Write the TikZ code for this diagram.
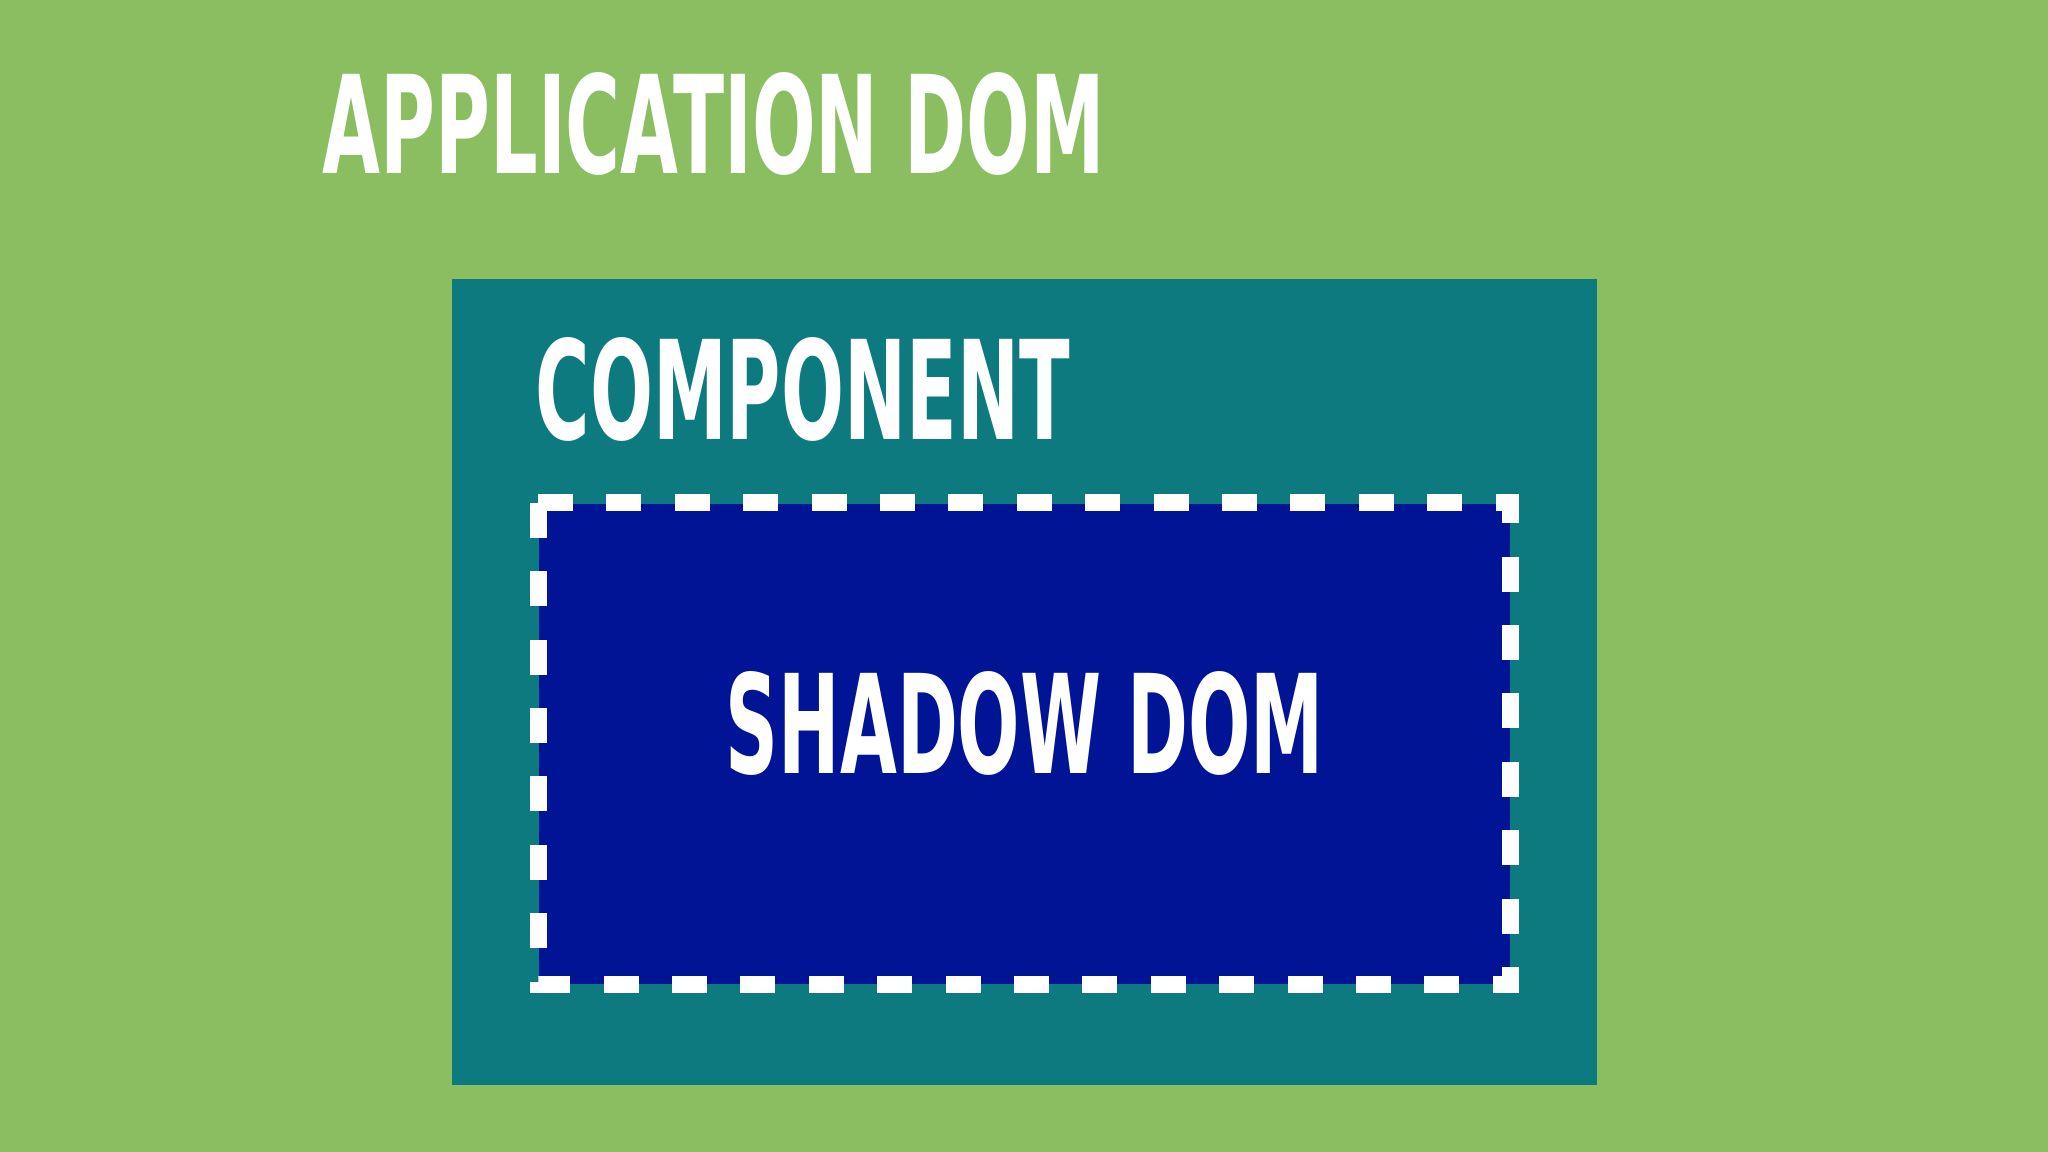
\documentclass[tikz,border=0pt]{standalone}
\usepackage{fontspec}
\setmainfont{DejaVu Sans}
\usepackage{graphicx}
\definecolor{appgreen}{RGB}{139,190,96}
\definecolor{compteal}{RGB}{13,122,128}
\definecolor{shadowblue}{RGB}{2,20,150}
\newcommand{\boxtext}[3]{\resizebox{#1}{#2}{\bfseries #3}}

\begin{document}
\begin{tikzpicture}
\tikzstyle{title} = [inner sep=0pt, anchor=north west, text=white]
\tikzstyle{panel} = [inner sep=0pt, anchor=north west]
\useasboundingbox (0,0) rectangle (20.48,-11.52);
\fill[appgreen] (0,0) rectangle (20.48,-11.52);
\node[panel, fill=compteal, minimum width=11.45cm, minimum height=8.06cm] (component) at (4.51,-2.78) {};
\node[panel, fill=shadowblue, minimum width=9.71cm, minimum height=4.80cm] (shadow) at (5.38,-5.03) {};
\draw[white, line width=0.17cm, dash pattern=on 0.35cm off 0.334cm]
    (shadow.north west) -- (shadow.north east) -- (shadow.south east) -- (shadow.south west) -- cycle;
\node[title] (apptitle) at (3.22,-0.72) {\boxtext{7.82cm}{1.01cm}{APPLICATION DOM}};
\node[title] (comptitle) at (5.35,-3.37) {\boxtext{5.34cm}{1.02cm}{COMPONENT}};
\node[title] (shadowtitle) at (7.25,-6.71) {\boxtext{5.98cm}{1.02cm}{SHADOW DOM}};
\end{tikzpicture}
\end{document}
